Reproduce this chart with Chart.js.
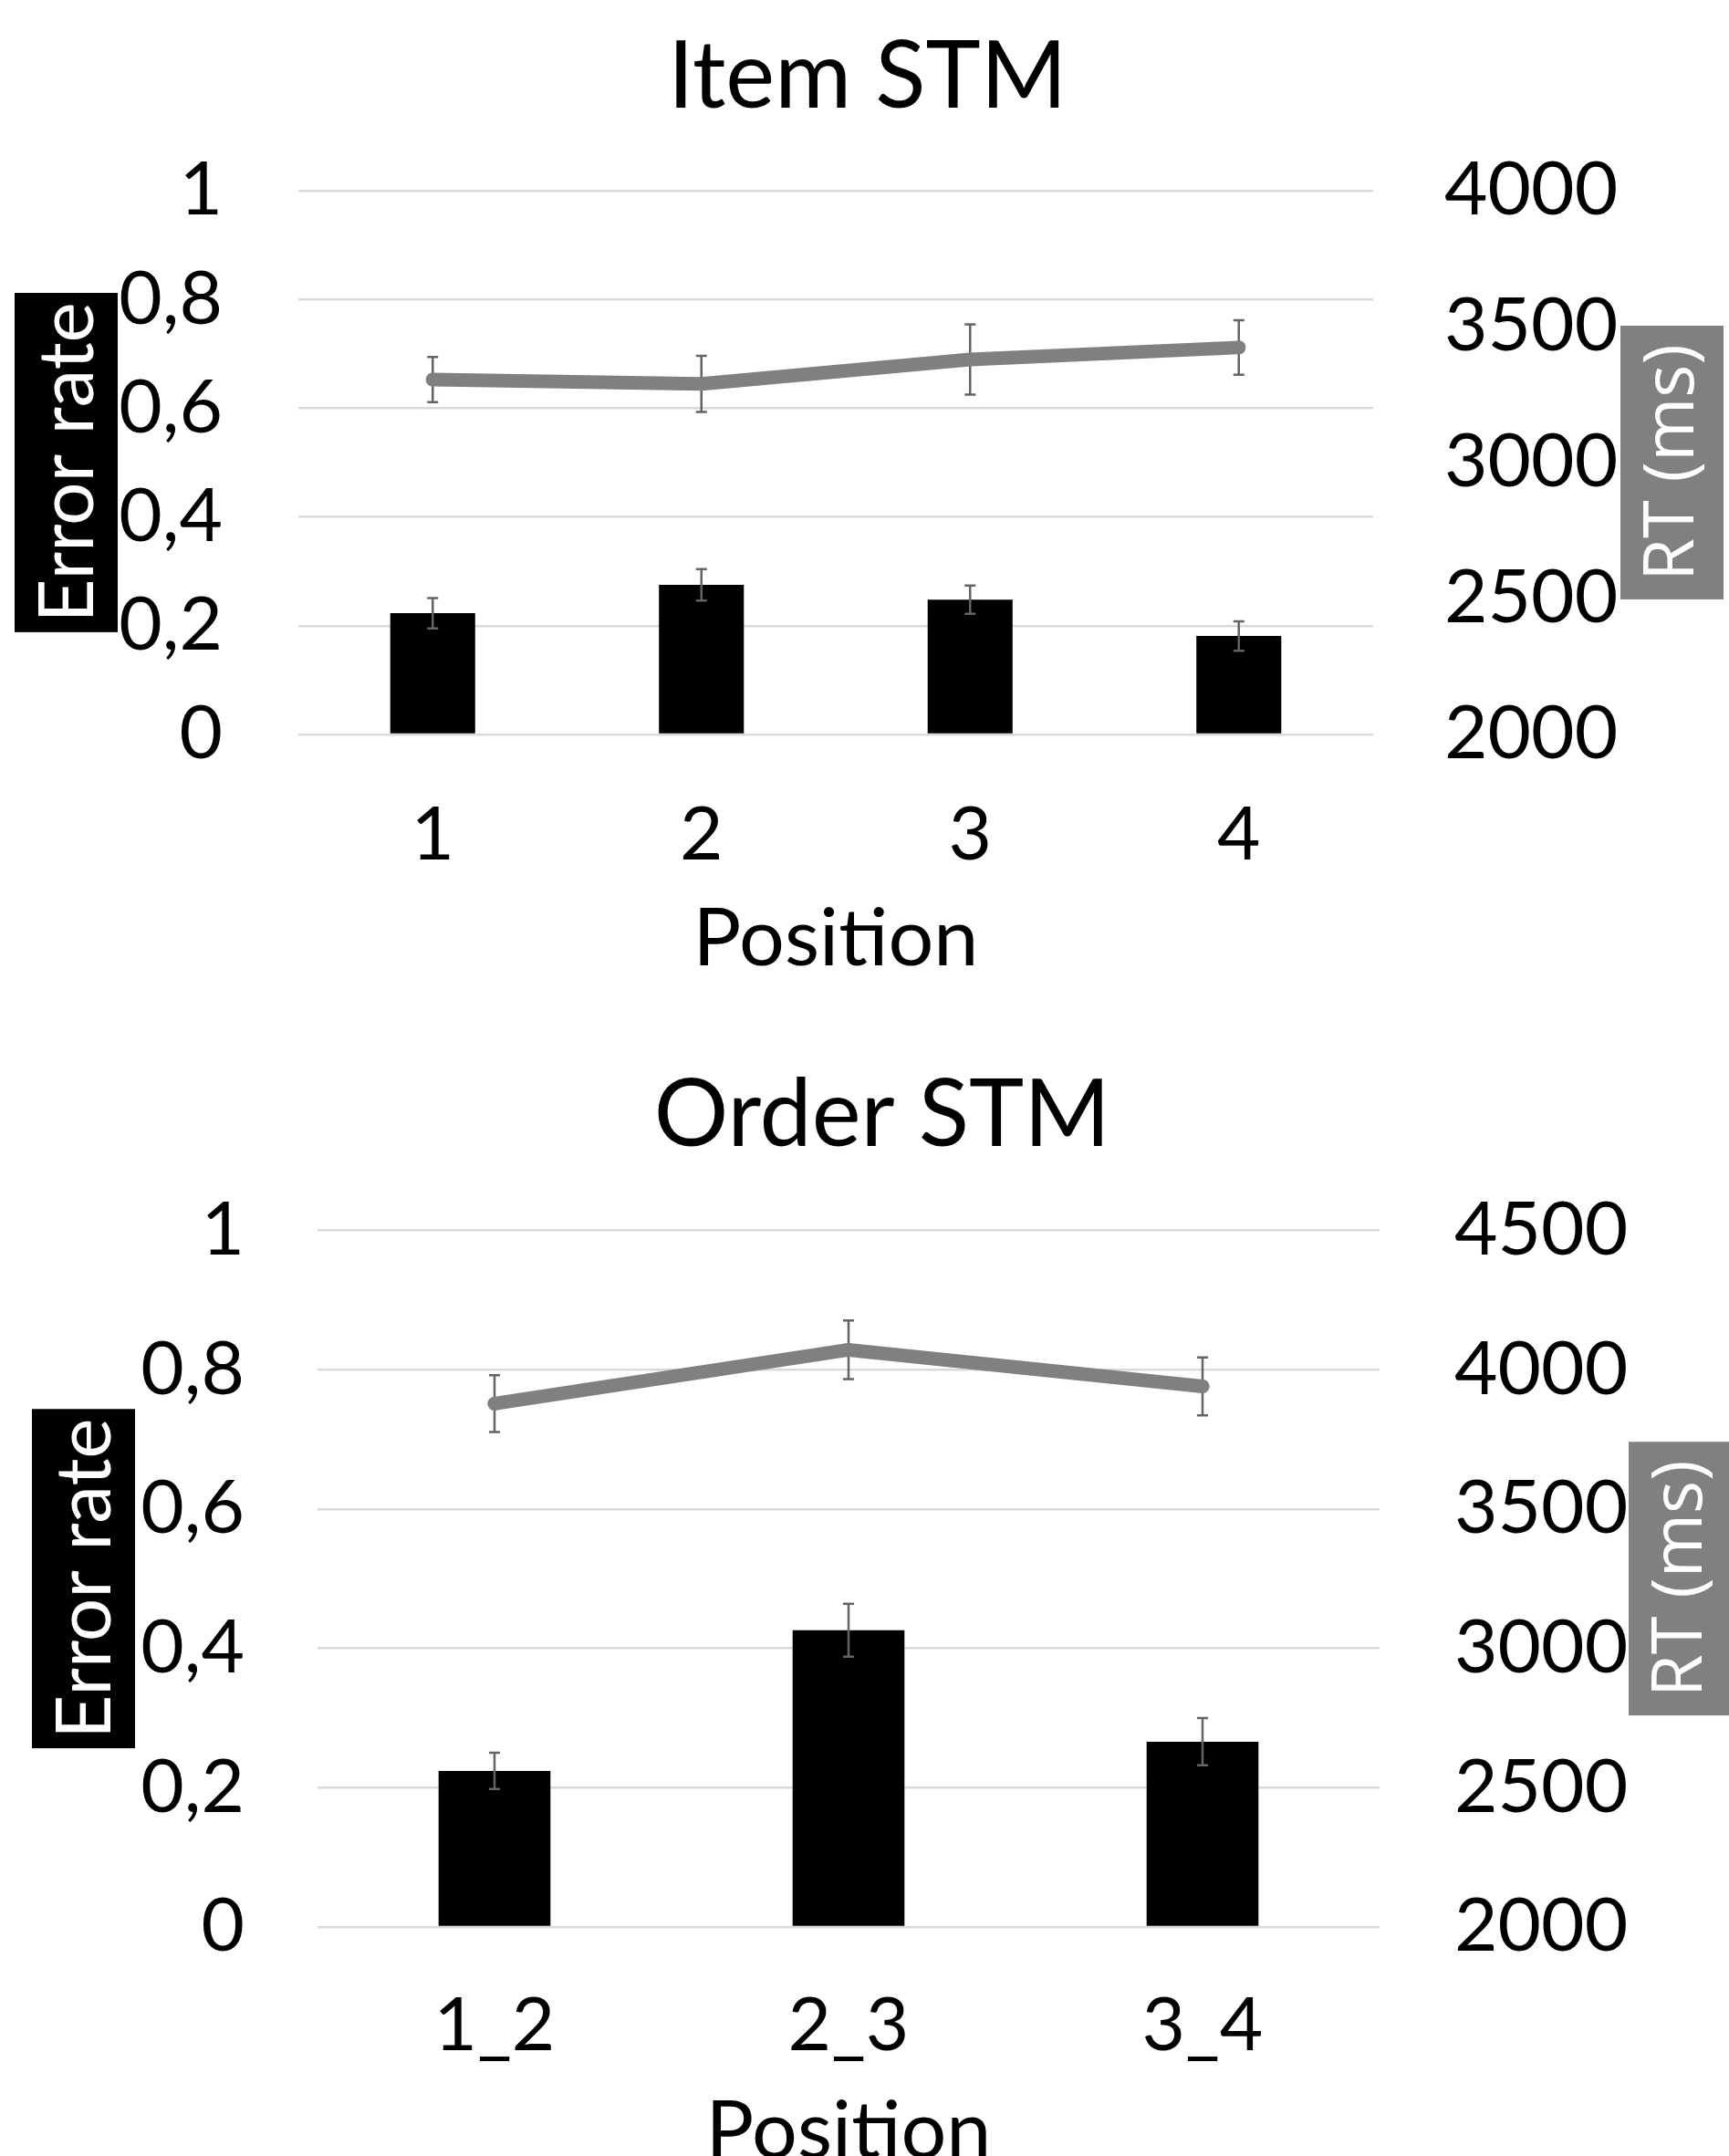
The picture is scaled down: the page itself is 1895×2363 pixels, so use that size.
<!DOCTYPE html>
<html>
<head>
<meta charset="utf-8">
<script src="https://cdn.jsdelivr.net/npm/chart.js@4.4.1/dist/chart.umd.min.js"></script>
<style>
  html, body { margin: 0; padding: 0; background: #fff; overflow: hidden; }
  #wrap { position: relative; width: 1895px; height: 2363px; overflow: hidden; background: #fff; }
  canvas { position: absolute; left: 0; }
  #itemChart { top: 0; }
  #orderChart { top: 1100px; }
</style>
</head>
<body>
<div id="wrap">
  <canvas id="itemChart" width="1895" height="1100"></canvas>
  <canvas id="orderChart" width="1895" height="1300"></canvas>
</div>
<script>
// Item STM
var itemPositions = ['1', '2', '3', '4'];
var itemErrorRate = [0.223, 0.275, 0.248, 0.181];
var itemErrorRateSE = [0.028, 0.029, 0.026, 0.027];
var itemRT = [3305, 3289, 3379, 3423];
var itemRTSE = [83, 103, 129, 100];

// Order STM
var orderPositions = ['1_2', '2_3', '3_4'];
var orderErrorRate = [0.224, 0.426, 0.266];
var orderErrorRateSE = [0.026, 0.038, 0.034];
var orderRT = [3878, 4071, 3940];
var orderRTSE = [102, 105, 104];

// tick labels
var errorRateTicks = ['0', '0,2', '0,4', '0,6', '0,8', '1'];
var itemRTTicks = ['2000', '2500', '3000', '3500', '4000'];
var orderRTTicks = ['2000', '2500', '3000', '3500', '4000', '4500'];

Chart.defaults.font.family = 'Lato';
Chart.defaults.color = '#000';

// draws the SE whiskers, under the line, over the bars
var errorBars = {
    id: 'errorBars',
    beforeDatasetDraw: function (chart, args) {
        var ds = chart.data.datasets[args.index];
        if (ds.errors && ds.errorsBelow) drawErrors(chart, args.meta, ds);
    },
    afterDatasetDraw: function (chart, args) {
        var ds = chart.data.datasets[args.index];
        if (ds.errors && !ds.errorsBelow) drawErrors(chart, args.meta, ds);
    }
};

function drawErrors(chart, meta, ds) {
    var scale = chart.scales[meta.yAxisID];
    var ctx = chart.ctx;
    ctx.save();
    ctx.strokeStyle = '#646464';
    ctx.lineWidth = 2.5;
    meta.data.forEach(function (el, i) {
        var x = el.x;
        var hi = scale.getPixelForValue(ds.data[i] + ds.errors[i]);
        var lo = scale.getPixelForValue(ds.data[i] - ds.errors[i]);
        ctx.beginPath();
        ctx.moveTo(x, hi); ctx.lineTo(x, lo);
        ctx.moveTo(x - 6, hi); ctx.lineTo(x + 6, hi);
        ctx.moveTo(x - 6, lo); ctx.lineTo(x + 6, lo);
        ctx.stroke();
    });
    ctx.restore();
}

// axis titles in filled boxes, both reading bottom to top
var sideBoxes = {
    id: 'sideBoxes',
    afterDraw: function (chart, args, opts) {
        var ctx = chart.ctx;
        var a = chart.chartArea;
        var cy = (a.top + a.bottom) / 2;
        (opts.items || []).forEach(function (b) {
            ctx.save();
            ctx.font = b.size + 'px ' + b.family;
            var h = ctx.measureText(b.text).width + 2 * b.pad;
            ctx.fillStyle = b.bg;
            ctx.fillRect(b.x, cy - h / 2, b.w, h);
            ctx.translate(b.x + b.w / 2, cy);
            ctx.rotate(-Math.PI / 2);
            ctx.fillStyle = b.color;
            ctx.textAlign = 'center';
            ctx.textBaseline = 'middle';
            ctx.fillText(b.text, 0, 2);
            ctx.restore();
        });
    }
};

function makeChart(id, s) {
    var ctx = document.getElementById(id);
    return new Chart(ctx, {
        type: 'bar',
        data: {
            labels: s.labels,
            datasets: [{
                type: 'line',
                label: 'RT (ms)',
                data: s.rt,
                errors: s.rtErr,
                errorsBelow: true,
                yAxisID: 'y1',
                borderColor: '#808080',
                backgroundColor: '#808080',
                borderWidth: 15,
                borderCapStyle: 'round',
                borderJoinStyle: 'round',
                pointRadius: 7.5,
                pointBorderWidth: 0,
                pointBackgroundColor: '#808080',
                tension: 0,
                order: 0
            }, {
                label: 'Error rate',
                data: s.err,
                errors: s.errSE,
                yAxisID: 'y',
                backgroundColor: '#000',
                borderWidth: 0,
                categoryPercentage: 1,
                barPercentage: 0.316,
                order: 1
            }]
        },
        options: {
            responsive: false,
            animation: false,
            events: [],
            layout: { padding: 0 },
            plugins: {
                legend: { display: false },
                tooltip: { enabled: false },
                title: {
                    display: true,
                    text: s.title,
                    color: '#000',
                    font: { family: 'Lato', size: 102, weight: 'normal', lineHeight: 1.2 },
                    padding: s.titlePad
                },
                sideBoxes: { items: s.boxes }
            },
            scales: {
                x: {
                    grid: { display: false, drawTicks: false },
                    border: { display: false },
                    ticks: { font: { size: 82 }, padding: s.xTickPad, color: '#000' },
                    title: {
                        display: true,
                        text: 'Position',
                        color: '#000',
                        font: { size: 88, lineHeight: 1.2 },
                        padding: { top: 0, bottom: s.xTitlePad }
                    },
                    afterFit: function (sc) { sc.height = s.xHeight; }
                },
                y: {
                    position: 'left',
                    min: 0,
                    max: 1,
                    grid: { color: '#d9d9d9', lineWidth: 2.5, drawTicks: false },
                    border: { display: false },
                    ticks: {
                        stepSize: 0.2,
                        padding: s.leftPad,
                        font: { size: 82 },
                        color: '#000',
                        callback: function (v, i) { return errorRateTicks[i]; }
                    },
                    afterFit: function (sc) { sc.width = s.leftW; }
                },
                y1: {
                    position: 'right',
                    min: s.rtMin,
                    max: s.rtMax,
                    grid: { display: false, drawTicks: false },
                    border: { display: false },
                    ticks: {
                        stepSize: 500,
                        padding: s.rightPad,
                        font: { size: 82 },
                        color: '#000',
                        callback: function (v, i) { return s.rtTicks[i]; }
                    },
                    afterFit: function (sc) { sc.width = s.rightW; }
                }
            }
        },
        plugins: [errorBars, sideBoxes]
    });
}

makeChart('itemChart', {
    title: '\u200aItem STM',
    titlePad: { top: 24, bottom: 62.5 },
    labels: itemPositions,
    err: itemErrorRate,
    errSE: itemErrorRateSE,
    rt: itemRT,
    rtErr: itemRTSE,
    rtMin: 2000,
    rtMax: 4000,
    rtTicks: itemRTTicks,
    leftW: 327, rightW: 390,
    leftPad: 83, rightPad: 78,
    xHeight: 295, xTickPad: 61, xTitlePad: 18,
    boxes: [
        { text: 'Error rate', family: 'Lato', size: 84, pad: 10, x: 16, w: 113, bg: '#000', color: '#fff' },
        { text: 'RT (ms)', family: '"Open Sans"', size: 76, pad: 20, x: 1776, w: 113, bg: '#808080', color: '#fff' }
    ]
});

makeChart('orderChart', {
    title: '\u00a0\u2009Order STM',
    titlePad: { top: 62, bottom: 64 },
    labels: orderPositions,
    err: orderErrorRate,
    errSE: orderErrorRateSE,
    rt: orderRT,
    rtErr: orderRTSE,
    rtMin: 2000,
    rtMax: 4500,
    rtTicks: orderRTTicks,
    leftW: 348, rightW: 383,
    leftPad: 80, rightPad: 82,
    xHeight: 288, xTickPad: 59, xTitlePad: 11,
    boxes: [
        { text: 'Error rate', family: 'Lato', size: 84, pad: 10, x: 35, w: 113, bg: '#000', color: '#fff' },
        { text: 'RT (ms)', family: '"Open Sans"', size: 76, pad: 20, x: 1785, w: 113, bg: '#808080', color: '#fff' }
    ]
});
</script>
</body>
</html>
